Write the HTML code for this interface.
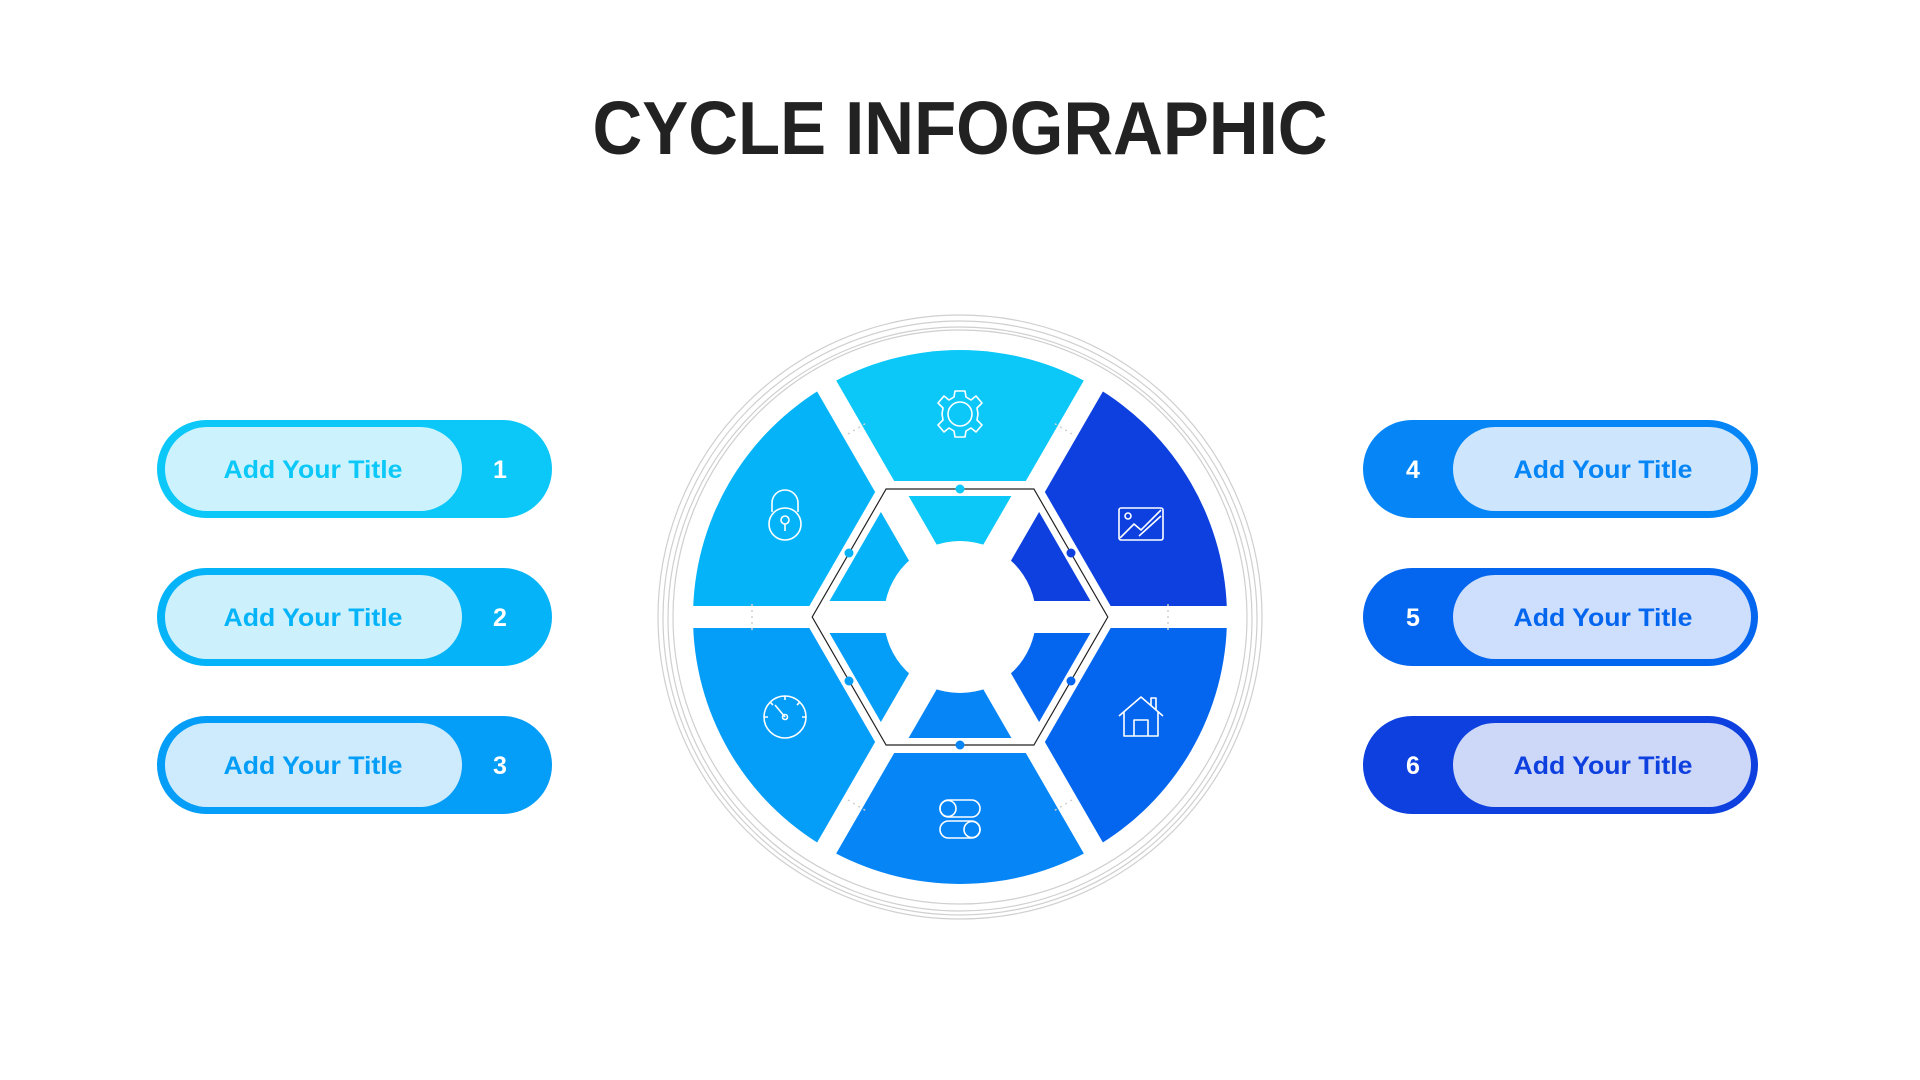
<!DOCTYPE html>
<html><head><meta charset="utf-8"><style>
html,body{margin:0;padding:0;background:#fff;}
svg{display:block;}
text{font-family:"Liberation Sans",Arial,sans-serif;font-weight:bold;}
</style></head><body>
<svg width="1920" height="1080" viewBox="0 0 1920 1080" xmlns="http://www.w3.org/2000/svg">
<defs>
<clipPath id="hexIn"><polygon points="1099.7,617 1029.9,738 890.1,738 820.3,617 890.1,496 1029.9,496"/></clipPath>
</defs>
<text x="960" y="154" text-anchor="middle" font-size="75" fill="#222" textLength="735" lengthAdjust="spacingAndGlyphs">CYCLE INFOGRAPHIC</text>

<!-- outer rings -->
<g fill="none" stroke="#cfcfcf" stroke-width="1.2">
<circle cx="960" cy="617" r="302"/>
<circle cx="960" cy="618" r="297"/>
<circle cx="960" cy="619" r="292"/>
<circle cx="960" cy="617" r="287"/>
</g>

<!-- outer segments -->
<g>
<path d="M960 617 L826.5 385.8 A267 267 0 0 1 1093.5 385.8 Z" fill="#0BC8F8"/>
<path d="M960 617 L1093.5 385.8 A267 267 0 0 1 1227 617 Z" fill="#0D40DE"/>
<path d="M960 617 L1227 617 A267 267 0 0 1 1093.5 848.2 Z" fill="#0466EF"/>
<path d="M960 617 L1093.5 848.2 A267 267 0 0 1 826.5 848.2 Z" fill="#0585F6"/>
<path d="M960 617 L826.5 848.2 A267 267 0 0 1 693 617 Z" fill="#049DF7"/>
<path d="M960 617 L693 617 A267 267 0 0 1 826.5 385.8 Z" fill="#05B4F8"/>
</g>
<polygon points="1117,617 1038.5,753 881.5,753 803,617 881.5,481 1038.5,481" fill="#fff"/>

<!-- inner pieces -->
<g clip-path="url(#hexIn)">
<path d="M960 617 L826.5 385.8 A267 267 0 0 1 1093.5 385.8 Z" fill="#0BC8F8"/>
<path d="M960 617 L1093.5 385.8 A267 267 0 0 1 1227 617 Z" fill="#0D40DE"/>
<path d="M960 617 L1227 617 A267 267 0 0 1 1093.5 848.2 Z" fill="#0466EF"/>
<path d="M960 617 L1093.5 848.2 A267 267 0 0 1 826.5 848.2 Z" fill="#0585F6"/>
<path d="M960 617 L826.5 848.2 A267 267 0 0 1 693 617 Z" fill="#049DF7"/>
<path d="M960 617 L693 617 A267 267 0 0 1 826.5 385.8 Z" fill="#05B4F8"/>
</g>
<circle cx="960" cy="617" r="76" fill="#fff"/>

<!-- gaps -->
<g stroke="#fff" stroke-width="22">
<line x1="680" y1="617" x2="1240" y2="617"/>
<line x1="820" y1="374.5" x2="1100" y2="859.5"/>
<line x1="1100" y1="374.5" x2="820" y2="859.5"/>
</g>
<g stroke="#fff" stroke-width="32">
<line x1="824" y1="617" x2="1096" y2="617"/>
<line x1="892" y1="499.2" x2="1028" y2="734.8"/>
<line x1="1028" y1="499.2" x2="892" y2="734.8"/>
</g>
<!-- dotted guides in gaps -->
<g stroke="#cfcfcf" stroke-width="1.5" stroke-dasharray="2 4">
<line x1="752" y1="604" x2="752" y2="630"/>
<line x1="1168" y1="604" x2="1168" y2="630"/>
<line x1="848" y1="434" x2="868" y2="422"/>
<line x1="1072" y1="434" x2="1052" y2="422"/>
<line x1="848" y1="800" x2="868" y2="812"/>
<line x1="1072" y1="800" x2="1052" y2="812"/>
</g>

<!-- black hex -->
<polygon points="1107.8,617 1033.9,745 886.1,745 812.2,617 886.1,489 1033.9,489" fill="none" stroke="#222" stroke-width="1.2"/>
<g>
<circle cx="960" cy="489" r="4.5" fill="#0BC8F8"/>
<circle cx="1071" cy="553" r="4.5" fill="#0D40DE"/>
<circle cx="1071" cy="681" r="4.5" fill="#0466EF"/>
<circle cx="960" cy="745" r="4.5" fill="#0585F6"/>
<circle cx="849" cy="681" r="4.5" fill="#049DF7"/>
<circle cx="849" cy="553" r="4.5" fill="#05B4F8"/>
</g>

<!-- icons -->
<g fill="none" stroke="#fff" stroke-width="1.6" stroke-linejoin="round">
<g transform="translate(960,414)">
<circle r="12"/>
<path d="M-5,-23 L5,-23 L6,-17 L11,-14 L16,-18 L22,-11 L17,-6 L18,0 L17,6 L22,11 L16,18 L11,14 L6,17 L5,23 L-5,23 L-6,17 L-11,14 L-16,18 L-22,11 L-17,6 L-18,0 L-17,-6 L-22,-11 L-16,-18 L-11,-14 L-6,-17 Z"/>
</g>
<g transform="translate(785,516)">
<path d="M-13,-4 L-13,-13 A13 13 0 0 1 13,-13 L13,-4"/>
<circle cx="0" cy="8" r="16"/>
<circle cx="0" cy="4" r="4"/>
<line x1="0" y1="8" x2="0" y2="15"/>
</g>
<g transform="translate(1141,524)">
<rect x="-22" y="-16" width="44" height="32" rx="2"/>
<circle cx="-13" cy="-8" r="3"/>
<path d="M-21,14 L-7,0 L0,6 L20,-14"/>
<path d="M-2,12 L20,-8"/>
</g>
<g transform="translate(785,717)">
<circle r="21"/>
<line x1="0" y1="0" x2="-10" y2="-12"/>
<circle r="2.5"/>
<path d="M-15,-15 l3,3 M0,-21 l0,4 M15,-15 l-3,3 M21,0 l-4,0 M-21,0 l4,0"/>
</g>
<g transform="translate(1141,718)">
<path d="M-22,-2 L0,-21 L22,-2 M-17,-6 L-17,18 L17,18 L17,-6 M-7,18 L-7,2 L7,2 L7,18 M10,-13 L10,-20 L15,-20 L15,-8"/>
</g>
<g transform="translate(960,820)">
<rect x="-20" y="-20" width="40" height="17" rx="8.5"/>
<circle cx="-12" cy="-11.5" r="8"/>
<rect x="-20" y="1" width="40" height="17" rx="8.5"/>
<circle cx="12" cy="9.5" r="8"/>
</g>
</g>

<!-- left pills -->
<g>
<rect x="157" y="420" width="395" height="98" rx="49" fill="#0BC8F8"/>
<rect x="165" y="427" width="297" height="84" rx="42" fill="#CCF3FD"/>
<text x="313" y="478" text-anchor="middle" font-size="25" fill="#0BC8F8" textLength="179" lengthAdjust="spacingAndGlyphs">Add Your Title</text>
<text x="500" y="478" text-anchor="middle" font-size="25" fill="#fff">1</text>

<rect x="157" y="568" width="395" height="98" rx="49" fill="#05B4F8"/>
<rect x="165" y="575" width="297" height="84" rx="42" fill="#CDF0FD"/>
<text x="313" y="626" text-anchor="middle" font-size="25" fill="#05B4F8" textLength="179" lengthAdjust="spacingAndGlyphs">Add Your Title</text>
<text x="500" y="626" text-anchor="middle" font-size="25" fill="#fff">2</text>

<rect x="157" y="716" width="395" height="98" rx="49" fill="#049DF7"/>
<rect x="165" y="723" width="297" height="84" rx="42" fill="#CDEBFD"/>
<text x="313" y="774" text-anchor="middle" font-size="25" fill="#049DF7" textLength="179" lengthAdjust="spacingAndGlyphs">Add Your Title</text>
<text x="500" y="774" text-anchor="middle" font-size="25" fill="#fff">3</text>
</g>

<!-- right pills -->
<g>
<rect x="1363" y="420" width="395" height="98" rx="49" fill="#0585F6"/>
<rect x="1453" y="427" width="298" height="84" rx="42" fill="#CDE5FD"/>
<text x="1603" y="478" text-anchor="middle" font-size="25" fill="#0585F6" textLength="179" lengthAdjust="spacingAndGlyphs">Add Your Title</text>
<text x="1413" y="478" text-anchor="middle" font-size="25" fill="#fff">4</text>

<rect x="1363" y="568" width="395" height="98" rx="49" fill="#0466EF"/>
<rect x="1453" y="575" width="298" height="84" rx="42" fill="#CDDFFC"/>
<text x="1603" y="626" text-anchor="middle" font-size="25" fill="#0466EF" textLength="179" lengthAdjust="spacingAndGlyphs">Add Your Title</text>
<text x="1413" y="626" text-anchor="middle" font-size="25" fill="#fff">5</text>

<rect x="1363" y="716" width="395" height="98" rx="49" fill="#0D40DE"/>
<rect x="1453" y="723" width="298" height="84" rx="42" fill="#CDD7F8"/>
<text x="1603" y="774" text-anchor="middle" font-size="25" fill="#0D40DE" textLength="179" lengthAdjust="spacingAndGlyphs">Add Your Title</text>
<text x="1413" y="774" text-anchor="middle" font-size="25" fill="#fff">6</text>
</g>
</svg>
</body></html>
